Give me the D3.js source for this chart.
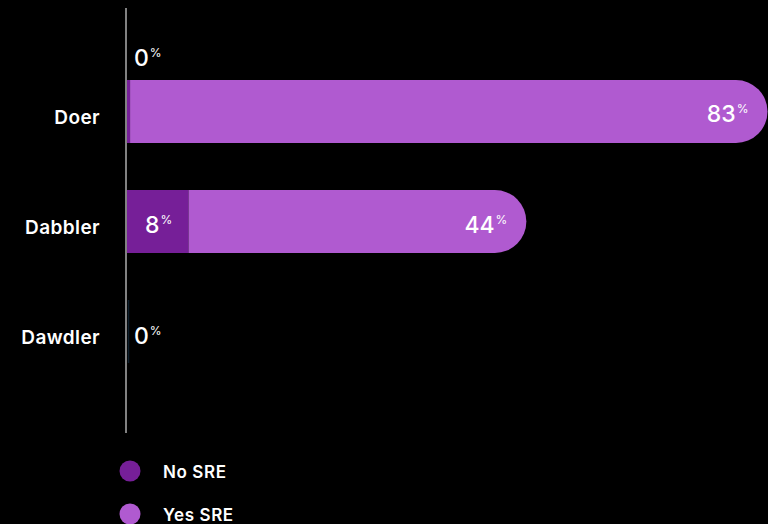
<!DOCTYPE html>
<html>
<head>
<meta charset="utf-8">
<script src="https://cdn.jsdelivr.net/npm/d3@7"></script>
<style>
  html, body { margin: 0; padding: 0; background: #000; }
  svg { display: block; }
  text { font-family: Inter, "Noto Sans", sans-serif; fill: #fff; }
</style>
</head>
<body>
<svg id="chart" width="768" height="524"></svg>
<script>
// Share of respondents with SRE, by engagement group
const categories = ["Doer", "Dabbler", "Dawdler"];
const seriesNames = ["No SRE", "Yes SRE"];
const noSRE = [0.4, 8, 0];
const yesSRE = [83, 44, 0];
const seriesColors = ["#761f98", "#b05ad0"];

const svg = d3.select("#chart");

const x = d3.scaleLinear().domain([0, 100]).range([127, 895]);
const y = d3.scaleBand()
  .domain(categories)
  .range([25, 418])
  .paddingInner(0.4273)
  .paddingOuter(0.5);

const rows = categories.map((c, i) => ({
  cat: c,
  no: noSRE[i],
  yes: yesSRE[i]
}));

// rounded-right-end bar path
function roundRightBar(x0, x1, y0, h) {
  const r = Math.min(h / 2, Math.max(0, x1 - x0));
  const p = d3.path();
  p.moveTo(x0, y0);
  p.lineTo(x1 - r, y0);
  p.arc(x1 - r, y0 + r, r, -Math.PI / 2, 0);
  p.lineTo(x1, y0 + h - r);
  p.arc(x1 - r, y0 + h - r, r, 0, Math.PI / 2);
  p.lineTo(x0, y0 + h);
  p.closePath();
  return p.toString();
}

const g = svg.append("g");

// No SRE segments
g.selectAll("rect.no")
  .data(rows)
  .join("rect")
  .attr("class", "no")
  .attr("x", x(0))
  .attr("y", d => y(d.cat))
  .attr("width", d => x(d.no) - x(0))
  .attr("height", y.bandwidth())
  .attr("fill", seriesColors[0]);

// Yes SRE segments (stacked after No SRE)
g.selectAll("path.yes")
  .data(rows.filter(d => d.yes > 0))
  .join("path")
  .attr("class", "yes")
  .attr("d", d => roundRightBar(x(d.no), x(d.no + d.yes), y(d.cat), y.bandwidth()))
  .attr("fill", seriesColors[1]);

// empty rows keep a faint edge
g.selectAll("line.empty")
  .data(rows.filter(d => d.no + d.yes === 0))
  .join("line")
  .attr("class", "empty")
  .attr("x1", x(0) + 1.5).attr("x2", x(0) + 1.5)
  .attr("y1", d => y(d.cat))
  .attr("y2", d => y(d.cat) + y.bandwidth())
  .attr("stroke", "#0d1e2b")
  .attr("stroke-width", 1.5);

// axis line
svg.append("line")
  .attr("x1", 126).attr("x2", 126)
  .attr("y1", 8).attr("y2", 433)
  .attr("stroke", "#d8d8d8")
  .attr("stroke-width", 1.2);

// category labels
const yAxis = d3.axisLeft(y).tickSize(0).tickPadding(26);
const ya = svg.append("g").attr("transform", "translate(126,0)").call(yAxis);
ya.select(".domain").remove();
ya.selectAll("text")
  .attr("font-size", 19)
  .attr("font-weight", 600)
  .attr("letter-spacing", 0.4)
  .attr("font-family", "Inter, sans-serif")
  .attr("fill", "#fff")
  .attr("dy", "0.66em");

const fmt = d3.format(".0f");
function valueLabel(sel, val, px, py, anchor) {
  const t = sel.append("text")
    .attr("x", px).attr("y", py)
    .attr("text-anchor", anchor)
    .attr("font-size", 23)
    .attr("font-weight", 500);
  t.append("tspan").text(fmt(val));
  t.append("tspan").attr("font-size", 12).attr("font-weight", 400)
    .attr("dy", -9).attr("dx", 1).text("%");
}

const labels = svg.append("g");
rows.forEach(d => {
  const top = y(d.cat), mid = top + y.bandwidth() / 2;
  const noW = x(d.no) - x(0);
  if (noW > 40) {
    valueLabel(labels, d.no, (x(0) + x(d.no)) / 2 + 1, mid + 11.5, "middle");
  } else if (d.yes > 0) {
    valueLabel(labels, d.no, x(0) + 7, top - 14, "start");
  } else {
    valueLabel(labels, d.no, x(0) + 7, mid + 12.5, "start");
  }
  if (d.yes > 0) {
    valueLabel(labels, d.yes, x(d.no + d.yes) - 19, mid + 11, "end");
  }
});

// legend
const legend = svg.append("g");
seriesNames.forEach((name, i) => {
  const cy = 471 + i * 43;
  legend.append("circle")
    .attr("cx", 130).attr("cy", cy).attr("r", 10.5)
    .attr("fill", seriesColors[i]);
  legend.append("text")
    .attr("x", 163).attr("y", cy + 6.5)
    .attr("font-size", 17)
    .attr("font-weight", 600)
    .attr("letter-spacing", 0.6)
    .text(name);
});
</script>
</body>
</html>
